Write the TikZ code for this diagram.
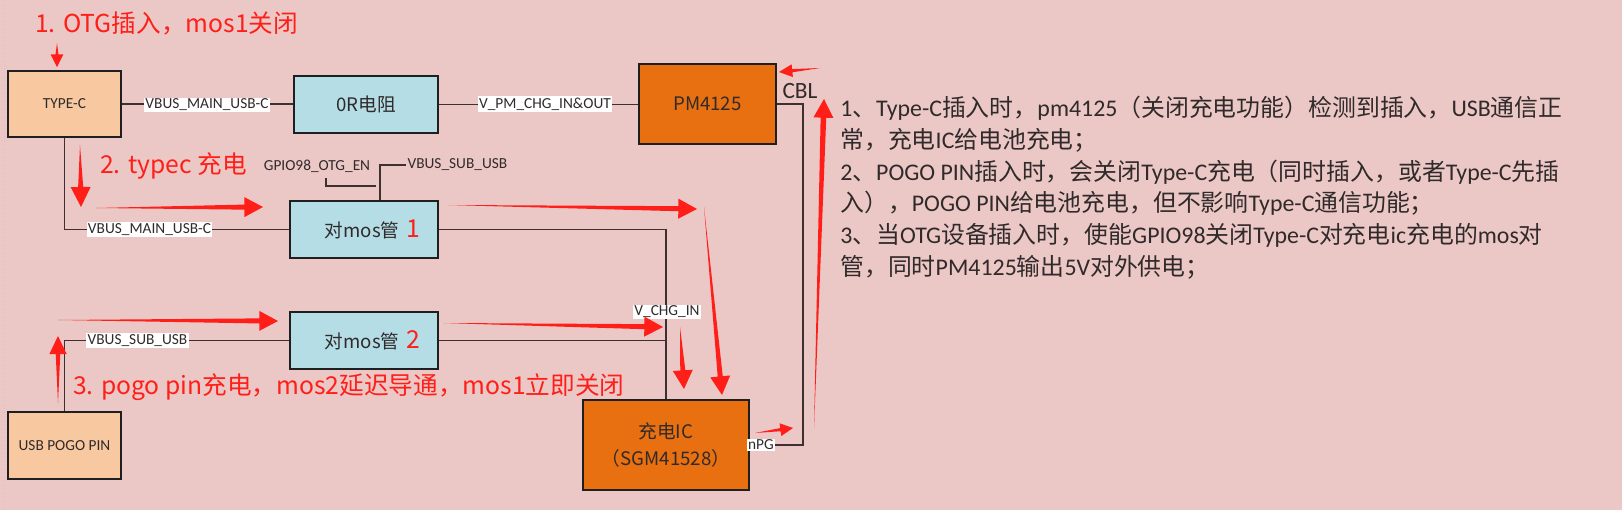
\documentclass[tikz,border=0pt]{standalone}
\usepackage{fontspec}
\setmainfont{Carlito}
\newfontfamily\cj{Noto Sans CJK SC}
\usetikzlibrary{calc}
\definecolor{bgc}{RGB}{235,200,198}
\definecolor{peach}{RGB}{248,201,160}
\definecolor{lblue}{RGB}{180,221,230}
\definecolor{orng}{RGB}{232,112,16}
\definecolor{annred}{RGB}{255,30,24}
\definecolor{wirec}{RGB}{62,48,48}
\definecolor{txtc}{RGB}{48,42,42}
\newcommand\redarr[5]{%
  \coordinate (rat) at (#1);
  \coordinate (rap) at (#2);
  \coordinate (rah) at ($(rap)!#3!(rat)$);
  \fill[annred] (rat) -- ($(rah)!#5!90:(rap)$) -- ($(rah)!#4!90:(rap)$) -- (rap)
     -- ($(rah)!#4!-90:(rap)$) -- ($(rah)!#5!-90:(rap)$) -- cycle;}
\tikzset{
  blk/.style={draw=black!88, line width=1.5pt, inner sep=0pt, text=txtc,
    font=\cj\fontsize{14}{20}\selectfont},
  smallblk/.style={blk, font=\fontsize{11.5}{13}\selectfont},
  wire/.style={draw=wirec, line width=1.2pt},
  lbl/.style={fill=white, inner sep=1pt, text=txtc, font=\fontsize{11.5}{13}\selectfont},
  plainlbl/.style={inner sep=1pt, text=txtc, font=\fontsize{11.5}{13}\selectfont},
  anno/.style={text=annred, font=\cj\fontsize{18.5}{20}\selectfont, inner sep=0pt, anchor=west},
  rtext/.style={text=txtc, font=\fontsize{17.9}{20}\selectfont, inner sep=0pt, anchor=west}
}
\begin{document}
\begin{tikzpicture}[x=0.75pt,y=-0.75pt]
\useasboundingbox (0,0) rectangle (1622,510);
\fill[bgc] (0,0) rectangle (1622,510);
\draw[black!22, line width=0.6pt, dash pattern=on 1pt off 2pt] (4,0) -- (4,510);

% boxes
\node[smallblk, fill=peach, minimum width=84.75pt, minimum height=49.5pt] (tc) at (64.5,104) {TYPE-C};
\node[blk, fill=lblue, minimum width=108pt, minimum height=42.75pt] (r0) at (366,104.5) {0R电阻};
\node[blk, fill=orng, minimum width=102.75pt, minimum height=60pt] (pm) at (707.5,104) {PM4125};
\node[blk, fill=lblue, minimum width=111pt, minimum height=42.75pt] (m1) at (364,229.5)
  {\hspace*{12.75pt}对mos管\hspace{5pt}{\color{annred}\fontsize{18.5}{20}\selectfont 1}};
\node[blk, fill=lblue, minimum width=111pt, minimum height=42.75pt] (m2) at (364,340.5)
  {\hspace*{12.75pt}对mos管\hspace{5pt}{\color{annred}\fontsize{18.5}{20}\selectfont 2}};
\node[smallblk, fill=peach, minimum width=84.75pt, minimum height=50.25pt] (pogo) at (64.5,445.5) {USB POGO PIN};
\node[blk, fill=orng, minimum width=124.5pt, minimum height=67.5pt, align=center] (ic) at (666,445) {充电IC\\（SGM41528）};

% wires
\coordinate (cblc) at (803,445);
\coordinate (gend) at (376,186);
\node[plainlbl] (gpio) at (317,166) {GPIO98\_OTG\_EN};
\node[plainlbl, anchor=west] (vsubt) at (406,165) {VBUS\_SUB\_USB};
\draw[wire] (tc.east) -- (tc.east -| r0.west);
\draw[wire] (r0.east) -- (r0.east -| pm.west);
\draw[wire] (pm.east) -| (cblc) -- (ic.east);
\draw[wire] (tc.south) |- (m1.west);
\draw[wire] (m1.east) -| (ic.north);
\draw[wire] (m2.east) -- (m2.east -| ic.north);
\draw[wire] (pogo.north) |- (m2.west);
\draw[wire] ([xshift=12pt]m1.north) |- (vsubt.west);
\draw[wire] ([xshift=6.75pt,yshift=-3pt]gpio.south) |- (gend);

% labels
\node[lbl] (l1) at (207,105) {VBUS\_MAIN\_USB-C};
\node[lbl] (l2) at (545,104) {V\_PM\_CHG\_IN\&OUT};
\node[lbl] (l3) at (149.5,229.5) {VBUS\_MAIN\_USB-C};
\node[lbl] (l4) at (137.5,340.5) {VBUS\_SUB\_USB};
\node[lbl] (l5) at (667,312) {V\_CHG\_IN};
\node[lbl] (l6) at (761,445) {nPG};
\node[text=txtc, inner sep=0pt, font=\fontsize{17.5}{20}\selectfont] (cbl) at (800,91) {CBL};

% red annotations
\node[anno] (a1) at (35,23) {1. OTG插入，mos1关闭};
\node[anno] (a2) at (100,166) {2. typec 充电};
\node[anno] (a3) at (73,387) {3. pogo pin充电，mos2延迟导通，mos1立即关闭};

\redarr{57,43}{57,67}{9.5pt}{4.8pt}{1.1pt}
\redarr{80,145}{81,207}{15pt}{7.5pt}{1.9pt}
\redarr{96,208}{263,207}{14pt}{7.5pt}{1.9pt}
\redarr{448,205}{697,209}{14pt}{7.5pt}{1.9pt}
\redarr{704,207}{722,395}{14pt}{7.5pt}{1.9pt}
\redarr{58,320}{278,321}{14pt}{7.5pt}{1.9pt}
\redarr{58,403}{58,336}{13.5pt}{6.5pt}{1.7pt}
\redarr{443,323}{663,327}{14pt}{7.5pt}{1.9pt}
\redarr{680,327}{684,389}{14pt}{7.5pt}{1.9pt}
\redarr{755,433}{793,428}{9.5pt}{4.8pt}{1.2pt}
\redarr{820,68}{779,72}{10pt}{4.8pt}{1.2pt}
\redarr{814,428}{824,99}{14pt}{7.5pt}{2.1pt}

% right text
\node[rtext] (t1) at (840,108) {1{\cj 、}Type-C{\cj 插入时，}pm4125{\cj （关闭充电功能）检测到插入，}USB{\cj 通信正}};
\node[rtext] (t2) at (840,140) {{\cj 常，充电}IC{\cj 给电池充电；}};
\node[rtext] (t3) at (840,172) {2{\cj 、}POGO PIN{\cj 插入时，会关闭}Type-C{\cj 充电（同时插入，或者}Type-C{\cj 先插}};
\node[rtext] (t4) at (840,203) {{\cj 入），}POGO PIN{\cj 给电池充电，但不影响}Type-C{\cj 通信功能；}};
\node[rtext] (t5) at (840,235) {3{\cj 、当}OTG{\cj 设备插入时，使能}GPIO98{\cj 关闭}Type-C{\cj 对充电}ic{\cj 充电的}mos{\cj 对}};
\node[rtext] (t6) at (840,267) {{\cj 管，同时}PM4125{\cj 输出}5V{\cj 对外供电；}};
\end{tikzpicture}
\end{document}
